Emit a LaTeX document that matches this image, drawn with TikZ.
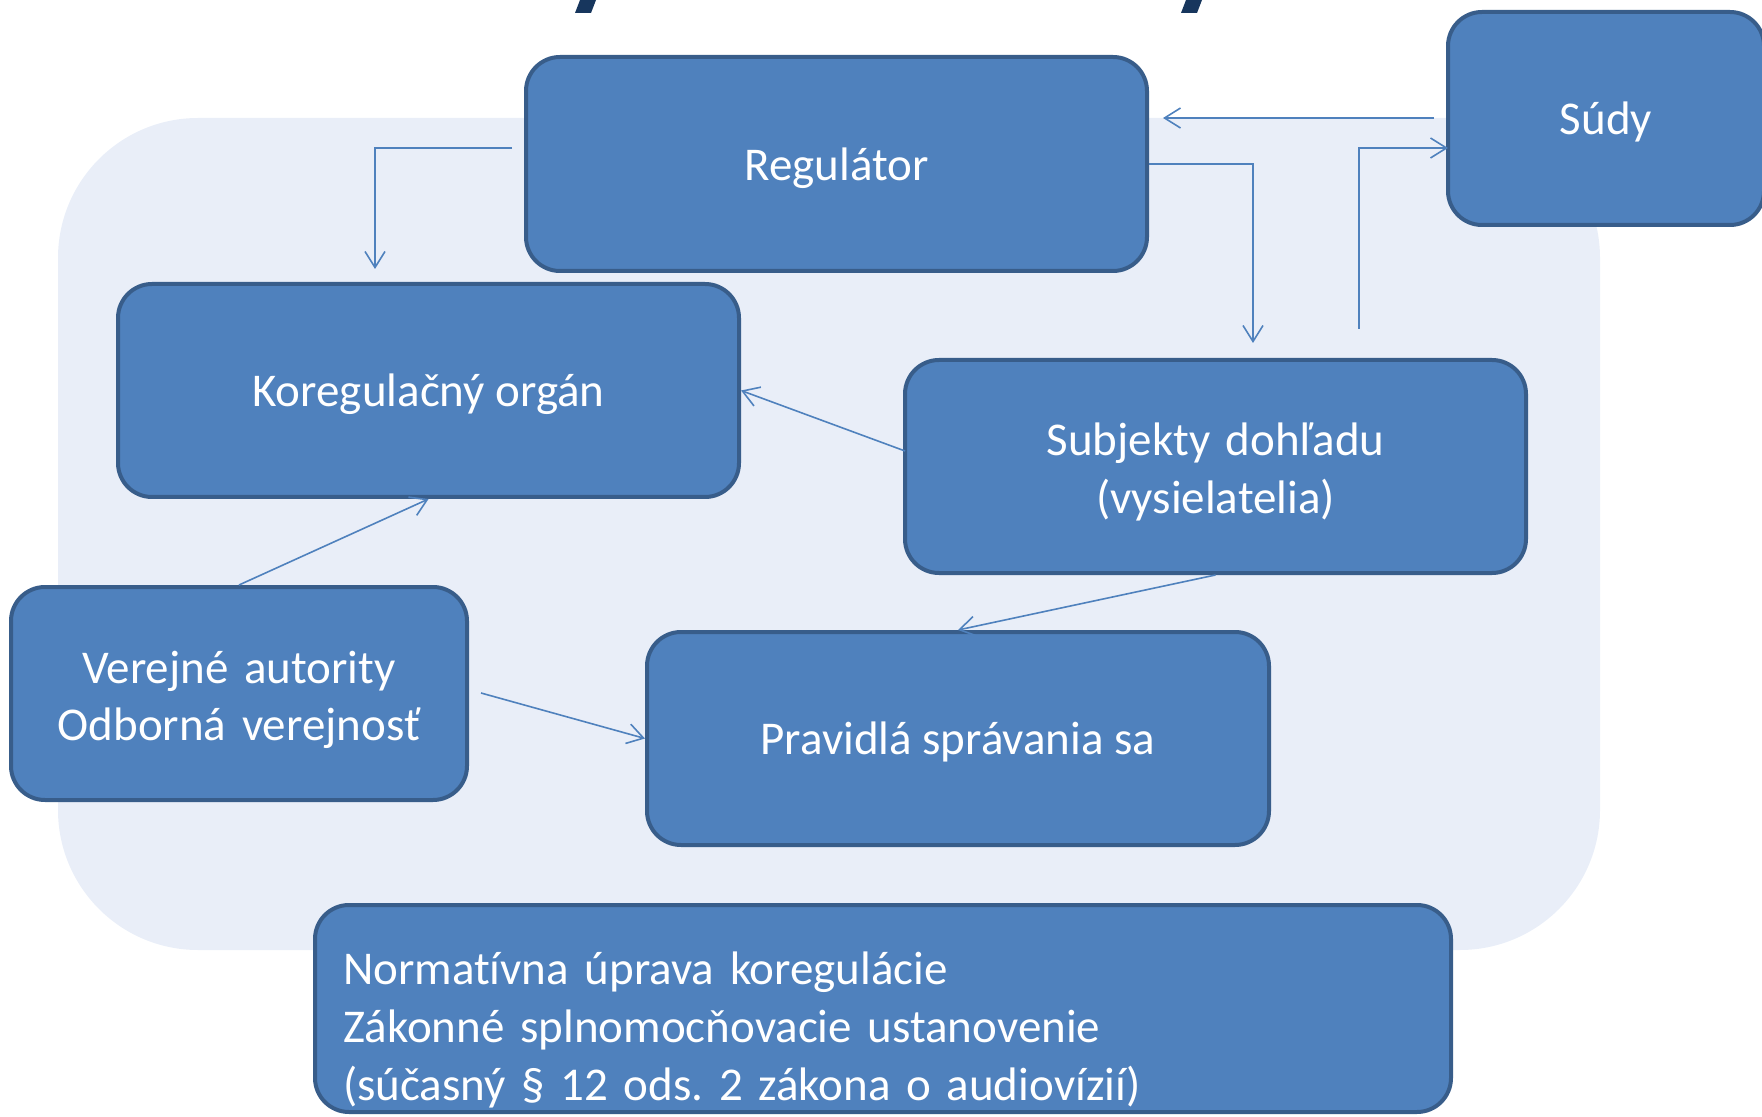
\documentclass[tikz,border=0pt]{standalone}
\usepackage{fontspec}
\setmainfont{Carlito}[Ligatures=NoCommon]
\frenchspacing
\usetikzlibrary{arrows.meta}
\definecolor{boxfill}{HTML}{4F81BD}
\definecolor{boxline}{HTML}{385D8A}
\definecolor{bgc}{HTML}{E9EEF8}
\definecolor{titlec}{HTML}{17365D}
\tikzset{
  blk/.style={rectangle, rounded corners=17pt, fill=boxfill, draw=boxline, line width=2pt,
    text=white, font=\fontsize{23.5pt}{28.8pt}\selectfont, align=center, inner sep=0pt,
    execute at begin node={\rule{0pt}{21.3pt}},
    execute at end node={\rule[-5pt]{0pt}{5pt}}},
  twoblk/.style={blk, execute at begin node={\rule{0pt}{23.3pt}}},
  normblk/.style={blk, align=left,
    execute at begin node={\rule{0pt}{38.9pt}}},
  conn/.style={draw=boxfill, line width=0.8pt, -{Straight Barb[length=8pt,width=10pt]}}
}
\begin{document}
\begin{tikzpicture}[x=0.5pt, y=-0.5pt]
\useasboundingbox (0,0) rectangle (1762,1117);
\clip (0,0) rectangle (1762,1117);
% background panel
\fill[bgc, rounded corners=70pt] (58,118) rectangle (1600,950);
% cut-off title fragments
\fill[titlec] (580,0) -- (596,0) -- (591,13) -- (575,13) -- cycle;
\fill[titlec] (1186,0) -- (1202,0) -- (1197,13) -- (1181,13) -- cycle;
% nodes
\node[blk, minimum width=310.5pt, minimum height=107pt] (reg) at (836.5,164) {Regulátor};
\node[blk, minimum width=158pt, minimum height=106.5pt] (sudy) at (1606,118.5) {Súdy};
\node[blk, minimum width=310.5pt, minimum height=106.5pt] (koreg) at (428.5,390.5) {Koregulačný orgán};
\node[twoblk, minimum width=310.5pt, minimum height=106.5pt, text width=280pt] (subj) at (1215.5,466.5) {Subjekty dohľadu\\(vysielatelia)};
\node[twoblk, minimum width=228pt, minimum height=106.5pt, text width=210pt] (ver) at (239,693.5) {Verejné autority\\Odborná verejnosť};
\node[blk, minimum width=311pt, minimum height=106.5pt] (prav) at (958,738.5) {Pravidlá správania sa};
\node[normblk, minimum width=568pt, minimum height=103.5pt, text width=540pt] (norm) at (883,1008.5)
  {Normatívna úprava koregulácie\\Zákonné splnomocňovacie ustanovenie\\(súčasný § 12 ods. 2 zákona o audiovízií)};
% free ends
\coordinate (c1s) at (512,148);
\coordinate (c1e) at (375,269);
\coordinate (c2s) at (1434,118);
\coordinate (c2e) at (1163,118);
\coordinate (c3e) at (1253,343);
\coordinate (c4s) at (1359,329);
\coordinate (c4e) at (1448,148);
\coordinate (c5s) at (905,451);
\coordinate (c7s) at (481,693);
% connectors
\draw[conn] (c1s) -| (c1e);
\draw[conn] (c2s) -- (c2e);
\draw[conn] (reg.east) -| (c3e);
\draw[conn] (c4s) |- (c4e);
\draw[conn] (c5s) -- (koreg.east);
\draw[conn] (ver.north) -- (koreg.south);
\draw[conn] (c7s) -- (prav.west);
\draw[conn] (subj.south) -- (prav.north);
\end{tikzpicture}
\end{document}
